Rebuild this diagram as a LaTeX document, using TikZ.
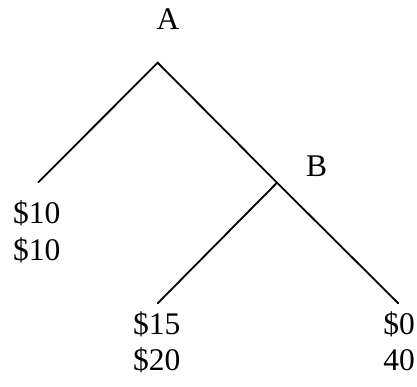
\documentclass[tikz,border=0pt]{standalone}
\usepackage{fontspec}
\setmainfont{Liberation Serif}
\begin{document}
\begin{tikzpicture}[x=1pt,y=1pt,
  lbl/.style={inner sep=0pt,font=\fontsize{31.5}{36}\selectfont},
  branch/.style={line width=1.8pt,line cap=round}]
\useasboundingbox (0,0) rectangle (417,-386);
\coordinate (A) at (157.7,-62.7);
\coordinate (B) at (277,-182.7);
\coordinate (L) at (38.3,-182.3);
\coordinate (BL) at (157.7,-303.3);
\coordinate (BR) at (398.3,-303.3);
\draw[branch] (L) -- (A) -- (B) -- (BR);
\draw[branch] (B) -- (BL);
\node[lbl,anchor=base west] (la) at (156.3,-29.3) {A};
\node[lbl,anchor=base west] (lb) at (306,-176) {B};
\node[lbl,anchor=base west] (l1) at (12.8,-223.3) {\$10};
\node[lbl,anchor=base west] (l2) at (12.8,-260) {\$10};
\node[lbl,anchor=base west] (m1) at (132.8,-334) {\$15};
\node[lbl,anchor=base west] (m2) at (132.8,-370) {\$20};
\node[lbl,anchor=base east] (r1) at (415,-334) {\$0};
\node[lbl,anchor=base east] (r2) at (415,-370) {40};
\end{tikzpicture}
\end{document}
